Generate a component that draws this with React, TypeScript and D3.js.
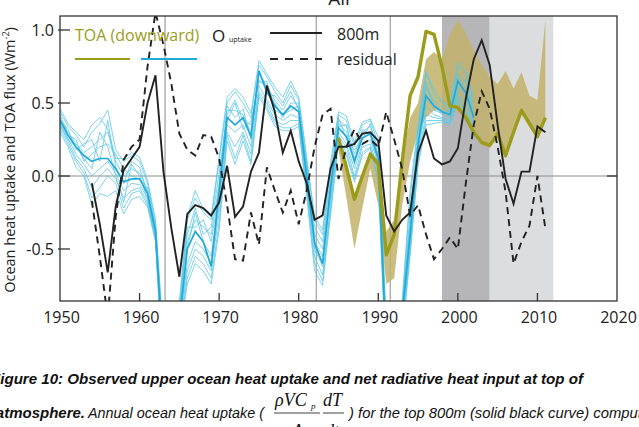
import React from 'react';
import * as d3 from 'd3';

// ---------- data ----------
const xTickYears = [1950, 1960, 1970, 1980, 1990, 2000, 2010, 2020];
const yTickValues = [-0.5, 0, 0.5, 1.0];
const yTickLabels = ['-0.5', '0.0', '0.5', '1.0'];
const volcanoYears = [1963.2, 1982.2, 1991.5];
const darkShade = [1998, 2004];
const lightShade = [2004, 2012];

const oceanYears = d3.range(1954, 2012);
const ocean800 = [
  -0.05, -0.33, -0.66, -0.21, 0.04, 0.12, 0.2, 0.5, 0.69, 0.03,
  -0.36, -0.69, -0.26, -0.2, -0.22, -0.27, -0.18, 0.07, -0.28, -0.21,
  0.03, 0.16, 0.62, 0.44, 0.16, 0.31, 0.1, -0.05, -0.3, -0.27,
  0.05, 0.2, 0.2, 0.22, 0.29, 0.3, 0.24, -0.27, -0.38, -0.3,
  -0.25, 0.16, 0.31, 0.12, 0.08, 0.1, 0.19, 0.53, 0.8, 0.93,
  0.76, 0.35, -0.02, -0.19, 0.03, 0.03, 0.34, 0.3,
];
const residual = [
  -0.17, -0.55, -0.97, -0.28, 0.11, 0.2, 0.25, 0.75, 1.12, 0.9,
  0.63, 0.29, 0.18, 0.14, 0.28, 0.27, 0.12, -0.2, -0.57, -0.58,
  -0.25, -0.47, 0.06, -0.1, -0.25, -0.1, -0.33, -0.1, 0.2, 0.42,
  0.46, -0.02, 0.2, 0.32, 0.22, 0.25, 0.2, 0.44, 0.25, 0.05,
  -0.27, -0.2, -0.4, -0.57, -0.5, -0.42, -0.5, -0.05, 0.35, 0.58,
  0.46, 0.2, -0.11, -0.6, -0.45, -0.34, 0.0, -0.36,
];

const toaYears = d3.range(1985, 2012);
const toa = [
  0.26, 0.06, -0.16, 0.0, 0.15, 0.08, -0.54, -0.4, 0.1, 0.55,
  0.68, 0.99, 0.97, 0.75, 0.48, 0.47, 0.4, 0.3, 0.23, 0.21,
  0.29, 0.14, 0.3, 0.45, 0.36, 0.27, 0.4,
];
const toaLow = [
  0.18, -0.15, -0.5, -0.22, 0.05, -0.2, -0.74, -0.7, -0.2, 0.1,
  0.3, 0.4, 0.45, 0.45, 0.42, 0.45, 0.38, 0.28, 0.21, 0.19,
  0.26, 0.12, 0.28, 0.42, 0.33, 0.25, 0.38,
];
const toaHigh = [
  0.3, 0.08, -0.12, 0.02, 0.17, 0.1, -0.38, -0.3, 0.1, 0.4,
  0.5, 0.8, 0.85, 0.8, 0.97, 1.07, 0.98, 0.86, 0.76, 0.68,
  0.63, 0.72, 0.6, 0.71, 0.55, 0.52, 1.07,
];

const cyanYears = d3.range(1950, 2003);
const cyanMean = [
  0.38, 0.28, 0.2, 0.14, 0.1, 0.12, 0.12, 0.05, -0.04, -0.02,
  -0.02, -0.12, -0.38, -1.25, -1.4, -1.0, -0.5, -0.38, -0.45, -0.62,
  -0.1, 0.4, 0.35, 0.4, 0.27, 0.72, 0.58, 0.48, 0.42, 0.48,
  0.44, 0.0, -0.46, -0.6, -0.08, 0.33, 0.27, 0.1, 0.26, 0.29,
  0.12, -1.2, -1.4, -0.95, -0.4, 0.22, 0.55, 0.48, 0.44, 0.42,
  0.65, 0.57, 0.4,
];
const cyanMembers = [
  [0.44,0.34,0.28,0.2,0.3,0.36,0.45,0.18,0.1,0.14,0.1,-0.05,-0.32,-1.15,-1.35,-0.9,-0.3,-0.15,-0.25,-0.3,0.1,0.5,0.58,0.5,0.4,0.76,0.68,0.58,0.5,0.62,0.52,0.1,-0.3,-0.4,0.05,0.42,0.38,0.2,0.35,0.38,0.22,-1.05,-1.25,-0.9,-0.15,0.32,0.7,0.56,0.5,0.46,0.75,0.7,0.5],
  [0.32,0.22,0.1,0.02,-0.15,-0.08,0.0,-0.05,-0.22,-0.12,-0.1,-0.2,-0.44,-1.38,-1.55,-1.08,-0.7,-0.55,-0.6,-0.7,-0.32,0.28,0.12,0.28,0.1,0.56,0.47,0.36,0.33,0.33,0.36,-0.1,-0.6,-0.72,-0.24,0.25,0.16,-0.02,0.16,0.2,-0.02,-1.28,-1.48,-1.08,-0.5,0.1,0.38,0.38,0.38,0.36,0.53,0.44,0.28],
  [0.4,0.3,0.22,0.16,0.2,0.25,0.3,0.1,0.0,0.05,0.02,-0.1,-0.36,-1.2,-1.42,-0.98,-0.45,-0.3,-0.35,-0.4,-0.05,0.45,0.45,0.42,0.3,0.7,0.62,0.52,0.45,0.55,0.47,0.05,-0.4,-0.5,-0.05,0.36,0.3,0.12,0.28,0.3,0.15,-1.15,-1.35,-0.95,-0.3,0.25,0.6,0.5,0.45,0.42,0.68,0.6,0.42],
  [0.36,0.26,0.15,0.08,0.0,0.05,0.1,0.02,-0.1,-0.05,-0.06,-0.15,-0.4,-1.3,-1.5,-1.02,-0.6,-0.45,-0.5,-0.6,-0.2,0.35,0.3,0.35,0.2,0.62,0.52,0.42,0.38,0.42,0.4,-0.05,-0.5,-0.62,-0.15,0.3,0.22,0.05,0.22,0.25,0.08,-1.22,-1.42,-1.02,-0.45,0.16,0.48,0.42,0.4,0.38,0.58,0.5,0.34],
  [0.46,0.36,0.3,0.25,0.35,0.4,0.32,0.12,0.12,0.16,0.13,-0.03,-0.3,-1.1,-1.3,-0.86,-0.28,-0.1,-0.23,-0.28,0.13,0.54,0.6,0.54,0.43,0.79,0.7,0.61,0.54,0.65,0.54,0.13,-0.28,-0.37,0.09,0.44,0.41,0.23,0.37,0.39,0.26,-1.0,-1.2,-0.85,-0.1,0.35,0.72,0.59,0.51,0.48,0.78,0.72,0.53],
  [0.3,0.2,0.06,0.0,-0.2,-0.12,-0.14,-0.1,-0.26,-0.16,-0.14,-0.21,-0.45,-1.4,-1.6,-1.1,-0.74,-0.6,-0.65,-0.74,-0.37,0.24,0.08,0.24,0.08,0.54,0.45,0.34,0.31,0.31,0.34,-0.14,-0.65,-0.75,-0.27,0.23,0.14,-0.04,0.14,0.19,-0.04,-1.3,-1.5,-1.1,-0.55,0.07,0.35,0.36,0.37,0.35,0.51,0.42,0.26],
  [0.42,0.28,0.25,0.1,0.15,0.2,0.22,0.15,0.05,0.0,-0.02,-0.08,-0.34,-1.18,-1.38,-0.92,-0.4,-0.22,-0.4,-0.35,0.02,0.42,0.52,0.38,0.35,0.66,0.6,0.5,0.4,0.5,0.5,0.02,-0.35,-0.45,0.0,0.38,0.34,0.15,0.3,0.34,0.18,-1.1,-1.3,-0.92,-0.25,0.28,0.62,0.52,0.47,0.44,0.7,0.64,0.46],
  [0.34,0.24,0.12,0.05,-0.08,0.0,0.05,-0.02,-0.15,-0.1,-0.08,-0.18,-0.42,-1.34,-1.52,-1.05,-0.65,-0.5,-0.55,-0.65,-0.25,0.3,0.2,0.3,0.15,0.58,0.5,0.38,0.35,0.38,0.38,-0.08,-0.55,-0.68,-0.2,0.27,0.2,0.0,0.2,0.22,0.04,-1.25,-1.45,-1.05,-0.5,0.12,0.42,0.4,0.39,0.37,0.55,0.47,0.3],
  [0.38,0.32,0.18,0.22,0.25,0.1,0.38,0.06,-0.05,0.1,0.06,-0.12,-0.38,-1.22,-1.45,-0.96,-0.35,-0.35,-0.3,-0.45,-0.1,0.48,0.4,0.46,0.25,0.72,0.56,0.55,0.48,0.58,0.45,0.08,-0.45,-0.55,-0.1,0.4,0.25,0.18,0.25,0.36,0.12,-1.12,-1.32,-0.98,-0.35,0.2,0.65,0.45,0.43,0.4,0.62,0.55,0.38],
  [0.35,0.25,0.2,0.12,0.05,0.3,0.2,0.0,-0.18,0.08,0.0,-0.16,-0.41,-1.28,-1.48,-1.0,-0.5,-0.25,-0.45,-0.55,-0.15,0.38,0.5,0.32,0.38,0.64,0.65,0.45,0.42,0.45,0.48,-0.02,-0.48,-0.6,-0.12,0.34,0.35,0.08,0.32,0.28,0.1,-1.18,-1.4,-1.0,-0.42,0.18,0.52,0.48,0.42,0.45,0.6,0.66,0.35],
];

// ---------- styles ----------
const SANS = "'Open Sans', 'DejaVu Sans', sans-serif";
const OLIVE = '#9c9c1c';
const BAND = '#c2b26a';
const CYAN_THIN = '#5cc6e4';
const CYAN_THICK = '#22a9d8';

export default function App() {
  const left = 60, right = 617, top = 16, bottom = 301;
  const x = d3.scaleLinear().domain([1950, 2020]).range([left, right]);
  const y = d3.scaleLinear().domain([-0.5, 1]).range([249, 30]);

  const mkLine = (yrs: number[]) =>
    d3.line<number>().x((_, i) => x(yrs[i])).y((d) => y(d));
  const cyanLine = mkLine(cyanYears);
  const oceanLine = mkLine(oceanYears);
  const toaLine = mkLine(toaYears);
  const band = d3
    .area<number>()
    .x((_, i) => x(toaYears[i]))
    .y0((_, i) => y(toaLow[i]))
    .y1((d) => y(d));

  return (
    <svg
      width={639}
      height={427}
      style={{ position: 'absolute', left: 0, top: 0, background: '#fff' }}
      fontFamily={SANS}
    >
      <defs>
        <clipPath id="plot">
          <rect x={left} y={top} width={right - left} height={bottom - top} />
        </clipPath>
      </defs>

      {/* title */}
      <text x={339} y={5} textAnchor="middle" fontSize={19} fill="#222">All</text>

      <g clipPath="url(#plot)">
        <rect x={x(darkShade[0])} y={top} width={x(darkShade[1]) - x(darkShade[0])} height={bottom - top} fill="#b6b6b8" />
        <rect x={x(lightShade[0])} y={top} width={x(lightShade[1]) - x(lightShade[0])} height={bottom - top} fill="#dcdddf" />
        <line x1={left} x2={right} y1={y(0)} y2={y(0)} stroke="#8c8c8c" strokeWidth={1} />
        {volcanoYears.map((v) => (
          <line key={v} x1={x(v)} x2={x(v)} y1={top} y2={bottom} stroke="#8c8c8c" strokeWidth={1} />
        ))}
        <path d={band(toaHigh) || ''} fill={BAND} opacity={0.85} />
        {cyanMembers.map((m, i) => (
          <path key={i} d={cyanLine(m) || ''} fill="none" stroke={CYAN_THIN} strokeWidth={0.8} />
        ))}
        <path d={cyanLine(cyanMean) || ''} fill="none" stroke={CYAN_THICK} strokeWidth={1.7} />
        <path d={toaLine(toa) || ''} fill="none" stroke={OLIVE} strokeWidth={3.4} strokeLinejoin="round" />
        <path d={oceanLine(residual) || ''} fill="none" stroke="#222" strokeWidth={1.9} strokeDasharray="7,5" />
        <path d={oceanLine(ocean800) || ''} fill="none" stroke="#222" strokeWidth={1.9} />
      </g>

      {/* frame */}
      <rect x={left} y={top} width={right - left} height={bottom - top} fill="none" stroke="#333" strokeWidth={1.3} />

      {/* y ticks */}
      {yTickValues.map((v, i) => (
        <g key={v}>
          <line x1={left - 2} x2={left + 10} y1={y(v)} y2={y(v)} stroke="#333" strokeWidth={1.3} />
          <text x={54} y={y(v) + 5.5} textAnchor="end" fontSize={16} fill="#222">{yTickLabels[i]}</text>
        </g>
      ))}
      <line x1={right - 10} x2={right} y1={y(0)} y2={y(0)} stroke="#333" strokeWidth={1.3} />

      {/* x ticks */}
      {xTickYears.map((t) => (
        <g key={t}>
          {t > 1950 && t < 2020 && (
            <line x1={x(t)} x2={x(t)} y1={bottom} y2={bottom - 8} stroke="#333" strokeWidth={1.3} />
          )}
          <text x={x(t) + 1.5} y={323} textAnchor="middle" fontSize={16} fill="#222">{t}</text>
        </g>
      ))}

      {/* y label */}
      <text
        transform="translate(15,160) rotate(-90)"
        textAnchor="middle"
        fontSize={14.5}
        fill="#222"
      >
        Ocean heat uptake and TOA flux (Wm<tspan dy={-6} fontSize={9}>-2</tspan><tspan dy={6}>)</tspan>
      </text>

      {/* legend */}
      <text x={75} y={41} fontSize={16} fill={OLIVE}>TOA (downward)</text>
      <text x={212} y={42} fontSize={17} fill="#222">O</text>
      <text x={229} y={42} fontSize={7} fill="#222">uptake</text>
      <line x1={270} x2={322} y1={33} y2={33} stroke="#222" strokeWidth={2} />
      <text x={337} y={40} fontSize={16} fill="#222">800m</text>
      <line x1={75} x2={130} y1={59} y2={59} stroke={OLIVE} strokeWidth={2.2} />
      <line x1={141} x2={197} y1={59} y2={59} stroke={CYAN_THICK} strokeWidth={2} />
      <line x1={270} x2={322} y1={59} y2={59} stroke="#222" strokeWidth={2} strokeDasharray="8,7" />
      <text x={337} y={65} fontSize={16} fill="#222">residual</text>

      {/* caption */}
      <g fontFamily="'Liberation Sans', Arial, sans-serif" fontStyle="italic" fill="#111">
        <text x={-9} y={384} fontSize={14} fontWeight="bold" textLength={592} lengthAdjust="spacingAndGlyphs">
          Figure 10: Observed upper ocean heat uptake and net radiative heat input at top of
        </text>
        <text x={85} y={418} fontSize={15} fontWeight="bold" textAnchor="end">atmosphere.</text>
        <text x={88} y={418} fontSize={14} textLength={176} lengthAdjust="spacingAndGlyphs">Annual ocean heat uptake (</text>
        <text x={349} y={418} fontSize={14.8}>) for the top 800m (solid black curve) computed</text>
      </g>
      <g fontFamily="'Liberation Serif', 'Times New Roman', serif" fontStyle="italic" fill="#111">
        <text x={275} y={406} fontSize={18}>ρVC</text>
        <text x={311} y={409} fontSize={9}>p</text>
        <line x1={274} x2={320} y1={413} y2={413} stroke="#111" strokeWidth={0.8} />
        <text x={292} y={437} fontSize={18}>A</text>
        <text x={323} y={406} fontSize={18}>dT</text>
        <line x1={323} x2={344} y1={413} y2={413} stroke="#111" strokeWidth={0.8} />
        <text x={325} y={437} fontSize={18}>dt</text>
      </g>
    </svg>
  );
}
